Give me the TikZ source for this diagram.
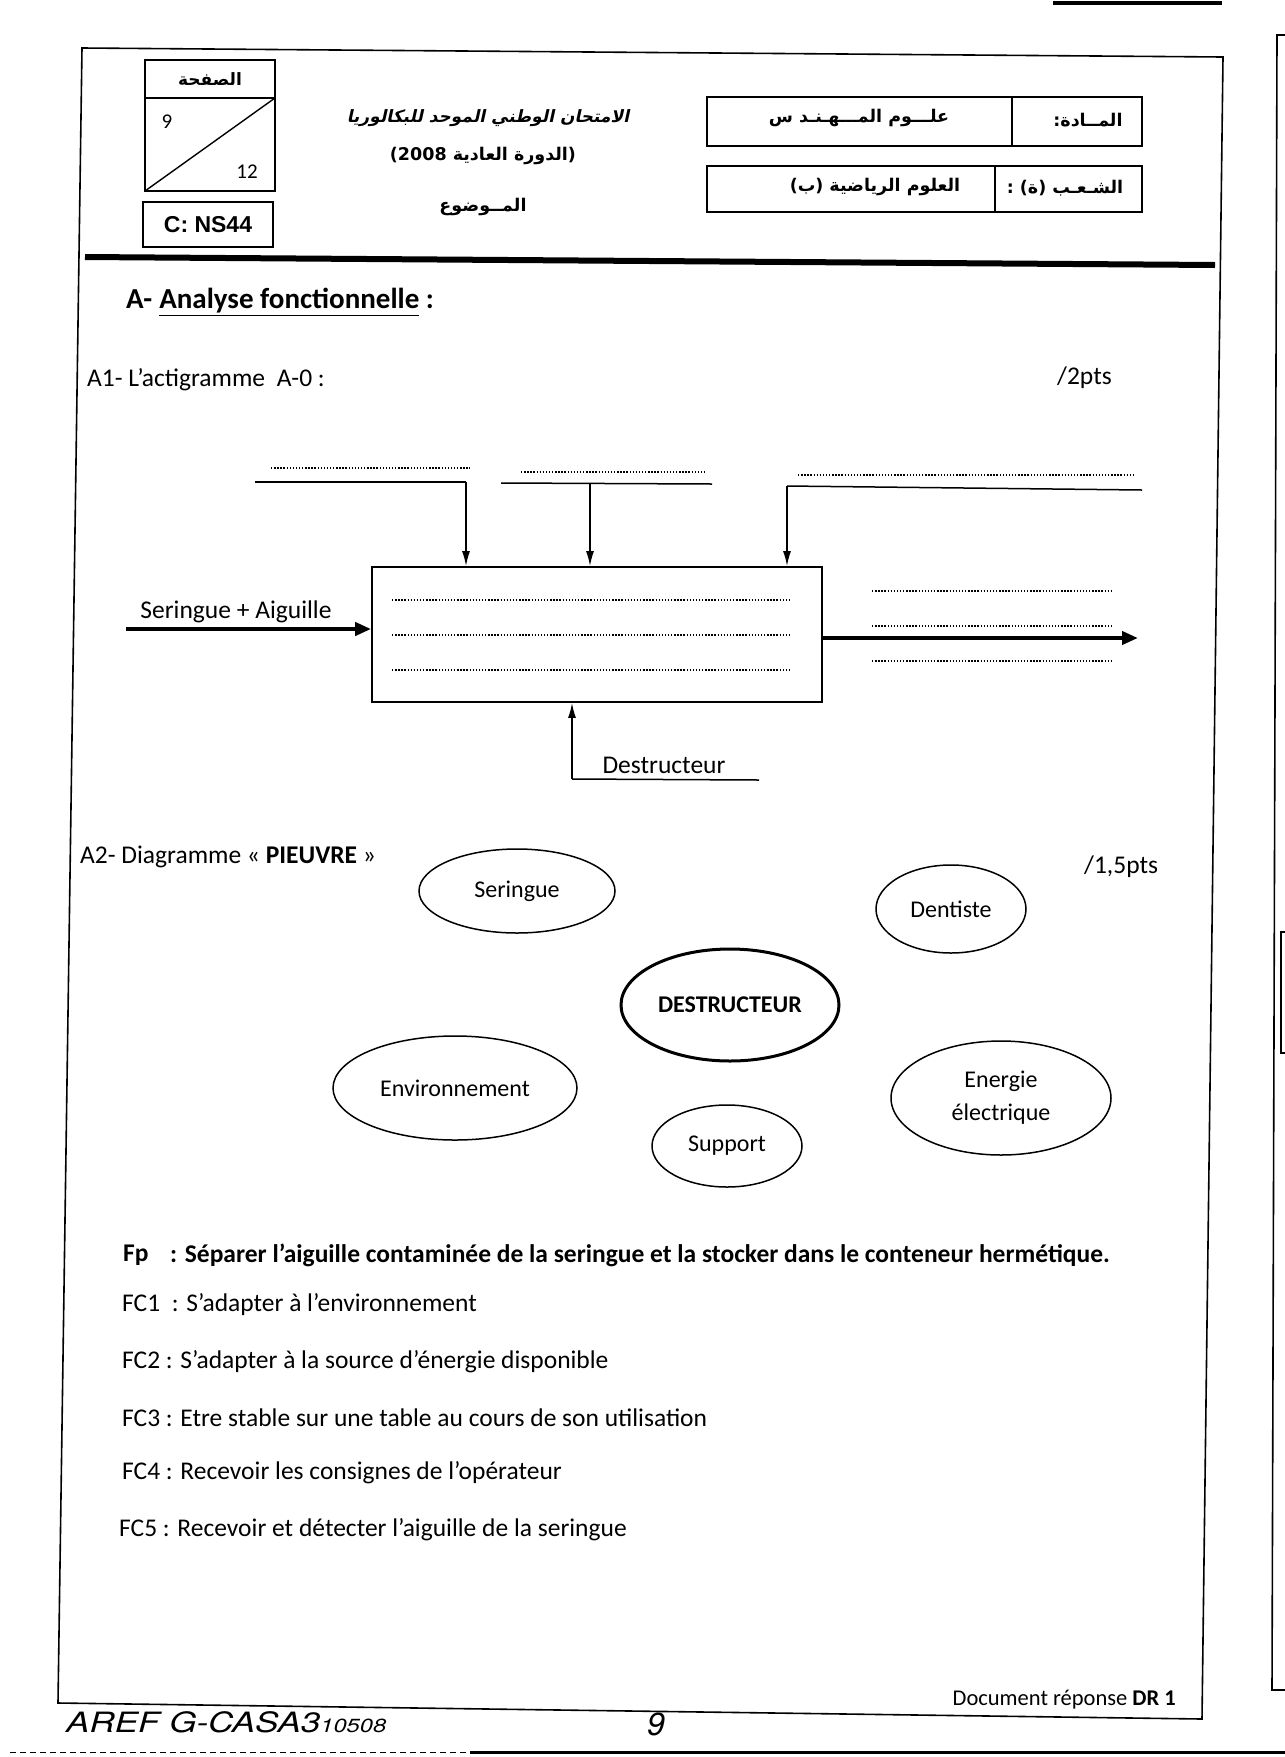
\documentclass[tikz,border=0pt]{standalone}
\usepackage{fontspec}
\setmainfont{Carlito}
\newfontfamily\arabicfont[Script=Arabic]{DejaVu Sans}
\newfontfamily\latfont{DejaVu Sans}
\newfontfamily\arialfont{Liberation Sans}
\newfontfamily\handfont{TeX Gyre Heros}
\TeXXeTstate=1
\usetikzlibrary{shapes.geometric,arrows.meta}
\begin{document}
\begin{tikzpicture}[x=1pt,y=-1pt,
  frameline/.style={line width=1.6pt},
  boxline/.style={line width=1.8pt},
  txt/.style={inner sep=0pt, anchor=west, font=\fontsize{25.5}{30}\selectfont},
  ctxt/.style={inner sep=0pt, font=\fontsize{25.5}{30}\selectfont},
  artxt/.style={inner sep=0pt, font=\arabicfont\bfseries\fontsize{17.5}{22}\selectfont},
  dotline/.style={line width=1.6pt, dash pattern=on 1.4pt off 1.7pt},
  ctrl/.style={line width=1.5pt, -{Latex[length=15pt,width=8pt]}},
  flow/.style={line width=4.2pt, -{Triangle[length=16pt,width=13pt]}},
  octo/.style={ellipse, draw, line width=1.5pt, inner sep=0pt, font=\fontsize{24}{29}\selectfont, align=center},
  actbox/.style={draw, line width=1.8pt, minimum width=450pt, minimum height=135pt, inner sep=0pt}
]
\useasboundingbox (0,0) rectangle (1285,1757);
\fill[white] (0,0) rectangle (1285,1757);

% ---------- page artefacts ----------
\draw[line width=4pt] (1053,3) -- (1222,3);
\draw[line width=1.6pt] (1285,35) -- (1277,35) -- (1272,1690) -- (1285,1690);
\draw[line width=1.6pt] (1285,932) -- (1281,932) -- (1281,1053) -- (1285,1053);
\draw[line width=1pt, dash pattern=on 6pt off 4pt] (10,1752) -- (470,1752);
\draw[line width=3pt] (470,1752) -- (1285,1752);

% ---------- frame ----------
\draw[frameline] (82,48) -- (1223,57) -- (1202,1719) -- (58,1703) -- cycle;

% ---------- header left ----------
\draw[boxline] (145,60) rectangle (275,191);
\draw[boxline] (145,98) -- (275,98);
\draw[line width=1.4pt] (145,191) -- (275,98);
\node[artxt, font=\arabicfont\bfseries\fontsize{17}{22}\selectfont] (pagelbl) at (210,79) {الصفحة};
\node[ctxt, font=\fontsize{21}{25}\selectfont] (pnum) at (167,122) {9};
\node[ctxt, font=\fontsize{21}{25}\selectfont] (ptot) at (247,172) {12};
\node[draw, line width=1.8pt, minimum width=130pt, minimum height=45pt, inner sep=0pt,
      font=\arialfont\bfseries\fontsize{23}{27}\selectfont] (code) at (208,224.5) {C: NS44};

% ---------- header centre ----------
\begin{scope}[shift={(489,118)}, xslant=0.22, transform shape]
\node[artxt, font=\arabicfont\bfseries\fontsize{17}{22}\selectfont] (title1) at (0,0) {\beginR الامتحان الوطني الموحد للبكالوريا\endR};
\end{scope}
\node[artxt] (title2) at (483,156) {\beginR{\latfont)}الدورة العادية \beginL{\latfont 2008}\endL{\latfont(}\endR};
\node[artxt] (title3) at (483,207) {\beginR المــوضوع\endR};

% ---------- header right ----------
\draw[boxline] (707,97) rectangle (1142,146);
\draw[boxline] (1012,97) -- (1012,146);
\draw[boxline] (707,166) rectangle (1142,212);
\draw[boxline] (995,166) -- (995,212);
\node[artxt] (subjlbl) at (1088,120) {\beginR المــادة{\latfont:}\endR};
\node[artxt] (subj) at (859,118) {\beginR علـــوم المـــهـنـد س\endR};
\node[artxt] (brlbl) at (1065,188) {\beginR الشـعـب {\latfont)}ة{\latfont(} {\latfont:}\endR};
\node[artxt] (br) at (875,187) {\beginR العلوم الرياضية {\latfont)}ب{\latfont(}\endR};

\draw[line width=6pt] (85,257) -- (1215,265);

% ---------- section A ----------
\node[txt, font=\bfseries\fontsize{29}{33}\selectfont] (secA) at (126,302) {A-\hspace{7pt}\underline{Analyse fonctionnelle} :};
\node[txt] (a1) at (87,380) {A1- L’actigramme\hspace{6pt} A-0 :};
\node[txt] (pts1) at (1057,378) {/2pts};

% ---------- actigramme ----------
\node[actbox] (box) at (597,634.5) {};

\coordinate (d1a) at (271,468); \coordinate (d1b) at (470,468);
\coordinate (d2a) at (521,472); \coordinate (d2b) at (705,472);
\coordinate (d3a) at (798,475); \coordinate (d3b) at (1134,475);
\draw[dotline] (d1a) -- (d1b);
\draw[dotline] (d2a) -- (d2b);
\draw[dotline] (d3a) -- (d3b);

\coordinate (l1a) at (255,482); \coordinate (l1k) at (466,482);
\coordinate (l2a) at (501,483); \coordinate (l2b) at (712,484); \coordinate (l2k) at (590,483);
\coordinate (l3k) at (787,486); \coordinate (l3b) at (1142,490);
\draw[line width=1.5pt] (l1a) -- (l1k);
\draw[line width=1.5pt] (l2a) -- (l2b);
\draw[line width=1.5pt] (l3k) -- (l3b);
\draw[ctrl] (l1k) -- (l1k |- box.north);
\draw[ctrl] (l2k) -- (l2k |- box.north);
\draw[ctrl] (l3k) -- (l3k |- box.north);

\foreach \yy in {600,635,670} {\draw[dotline] (392,\yy) -- (790,\yy);}
\foreach \yy in {591,626,661} {\draw[dotline] (872,\yy) -- (1111,\yy);}

\coordinate (inA) at (126,629);
\draw[flow] (inA) -- (inA -| box.west);
\node[ctxt] (inlbl) at (236,612) {Seringue + Aiguille};

\coordinate (outB) at (1138,638);
\draw[flow] (box.east |- outB) -- (outB);

\coordinate (mecA) at (572,779); \coordinate (mecB) at (759,780);
\draw[line width=1.5pt] (mecA) -- (mecB);
\draw[ctrl] (mecA) -- (mecA |- box.south);
\node[ctxt] (meclbl) at (664,765) {Destructeur};

% ---------- pieuvre ----------
\node[txt] (a2) at (80,857) {A2- Diagramme « \textbf{PIEUVRE} »};
\node[txt] (pts2) at (1084,867) {/1,5pts};

\node[octo, minimum width=196pt, minimum height=84pt] (ser) at (517,891) {Seringue};
\node[octo, minimum width=150pt, minimum height=88pt] (dent) at (951,909) {Dentiste};
\node[octo, line width=3pt, minimum width=218pt, minimum height=112pt, font=\bfseries\fontsize{24}{29}\selectfont] (dest) at (730,1005) {DESTRUCTEUR};
\node[octo, minimum width=244pt, minimum height=104pt] (env) at (455,1088) {Environnement};
\node[octo, minimum width=220pt, minimum height=114pt] (ener) at (1001,1098) {Energie\\[4pt]électrique};
\node[octo, minimum width=150pt, minimum height=82pt] (sup) at (727,1146) {Support};

% ---------- fonctions ----------
\node[txt, font=\bfseries\fontsize{25.5}{30}\selectfont] (fp) at (123,1255) {Fp};
\node[txt, font=\bfseries\fontsize{25.5}{30}\selectfont] (fptxt) at (170,1255) {: Séparer l’aiguille contaminée de la seringue et la stocker dans le conteneur hermétique.};
\node[txt] (fc1) at (122,1305) {FC1\hspace{6pt} : S’adapter à l’environnement};
\node[txt] (fc2) at (122,1362) {FC2 : S’adapter à la source d’énergie disponible};
\node[txt] (fc3) at (122,1418) {FC3 : Etre stable sur une table au cours de son utilisation};
\node[txt] (fc4) at (122,1473) {FC4 : Recevoir les consignes de l’opérateur};
\node[txt] (fc5) at (119,1530) {FC5 : Recevoir et détecter l’aiguille de la seringue};

% ---------- footer ----------
\node[inner sep=0pt, anchor=east, font=\fontsize{22.5}{27}\selectfont] (dr) at (1176,1700) {Document réponse \textbf{DR 1}};
\node[inner sep=0pt, anchor=west, font=\handfont\itshape\fontsize{28}{32}\selectfont] (aref) at (66,1722) {\scalebox{1.25}[1]{AREF G-CASA3{\fontsize{19}{22}\selectfont 10508}}};
\node[inner sep=0pt, font=\handfont\itshape\fontsize{32}{36}\selectfont] (hand9) at (656,1724) {9};
\end{tikzpicture}
\end{document}
